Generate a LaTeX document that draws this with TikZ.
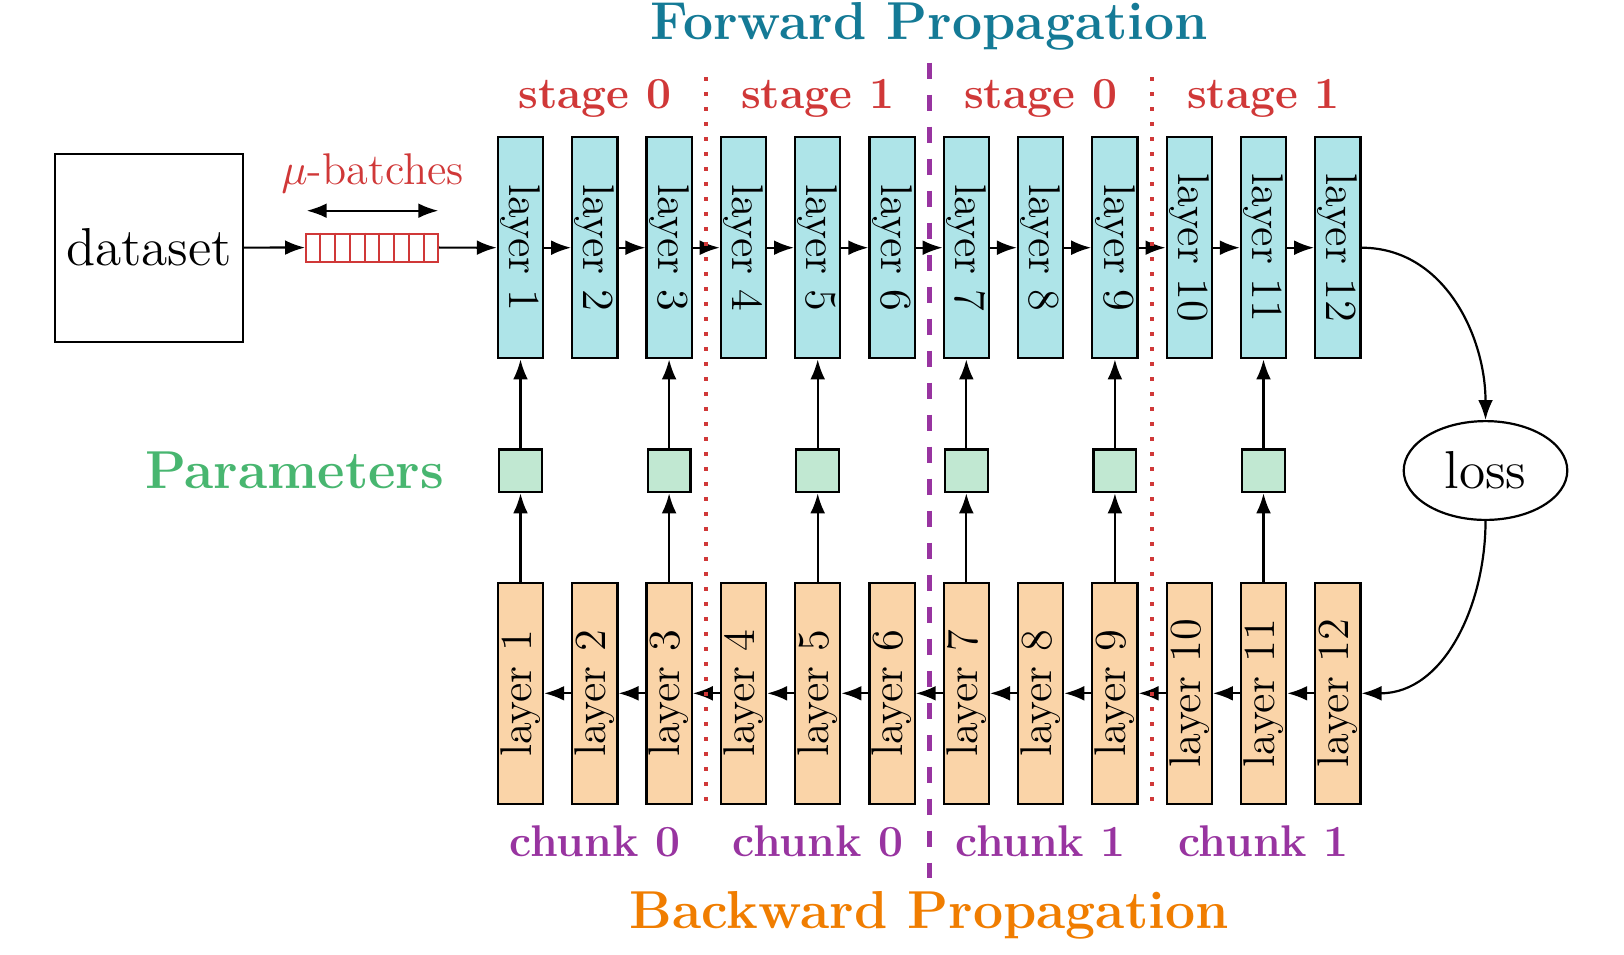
\documentclass[tikz,border=0pt]{standalone}
\usepackage{graphicx}
\usetikzlibrary{arrows.meta,calc,shapes.geometric}

\definecolor{fwdblue}{RGB}{20,122,150}
\definecolor{stagered}{RGB}{208,56,56}
\definecolor{paramgreen}{RGB}{72,182,112}
\definecolor{paramfill}{RGB}{193,232,210}
\definecolor{fwdfill}{RGB}{174,228,232}
\definecolor{bwdfill}{RGB}{250,212,168}
\definecolor{chunkpurple}{RGB}{152,52,160}
\definecolor{bwdorange}{RGB}{240,125,0}

\newcommand{\lblsize}{\fontsize{11.1}{13.4}\selectfont}
\newcommand{\headsize}{\fontsize{13.35}{16}\selectfont}

\tikzset{
  x=0.25pt, y=0.25pt,
  conn/.style={line width=0.55pt, -{Latex[length=5pt,width=3.7pt]}},
  layerbox/.style={draw, line width=0.55pt, minimum width=11.3pt,
    minimum height=55.3pt, inner sep=0pt, font=\lblsize},
  fwdlayer/.style={layerbox, fill=fwdfill},
  bwdlayer/.style={layerbox, fill=bwdfill},
  parambox/.style={draw, line width=0.55pt, fill=paramfill,
    minimum size=10.7pt, inner sep=0pt},
  stagelbl/.style={anchor=base, inner sep=0pt, text=stagered, font=\lblsize\bfseries},
  chunklbl/.style={anchor=base, inner sep=0pt, text=chunkpurple, font=\lblsize\bfseries},
  titlelbl/.style={anchor=base, inner sep=0pt, font=\headsize\bfseries},
  stagesep/.style={stagered, line width=1pt, dash pattern=on 1pt off 2.75pt},
  chunksep/.style={chunkpurple, line width=1.25pt, dash pattern=on 4pt off 4pt},
}

\begin{document}
\begin{tikzpicture}
\useasboundingbox (0,0) rectangle (1624,-954);

% input side: dataset and micro-batch queue
\node[draw, line width=0.55pt, minimum size=47pt, inner sep=0pt,
  font=\headsize] (data) at (149,-247.7) {dataset};
\node[draw=stagered, line width=0.5pt, minimum width=33pt,
  minimum height=7pt, inner sep=0pt] (queue) at (372,-247.5) {};
\foreach \k in {1,...,8}
  \draw[stagered, line width=0.5pt]
    ($(queue.north west)!\k/9!(queue.north east)$) --
    ($(queue.south west)!\k/9!(queue.south east)$);
\node[anchor=base, inner sep=0pt, text=stagered, font=\lblsize] (mulabel)
  at (372.6,-184) {$\mu$-batches};
\coordinate (qa) at (306.7,-210.7);
\coordinate (qb) at (438.3,-210.7);
\draw[line width=0.55pt, {Latex[length=5pt,width=3.7pt]}-{Latex[length=5pt,width=3.7pt]}] (qa) -- (qb);

% forward and backward layers
\foreach \i in {1,...,12} {
  \node[fwdlayer] (f\i) at ({520.5+(\i-1)*74.3},-247.7) {\rotatebox{-90}{layer \i}};
  \node[bwdlayer] (b\i) at ({520.5+(\i-1)*74.3},-693.3) {\rotatebox{90}{layer \i}};
}

\draw[conn] (data) -- (queue);
\draw[conn] (queue) -- (f1);
\foreach \i in {1,...,11} {
  \pgfmathtruncatemacro{\j}{\i+1}
  \draw[conn] (f\i) -- (f\j);
  \draw[conn] (b\j) -- (b\i);
}

% shared parameters of every other layer
\foreach \i in {1,3,5,7,9,11} {
  \node[parambox] (p\i) at ({520.5+(\i-1)*74.3},-470.8) {};
  \draw[conn] (b\i) -- (p\i);
  \draw[conn] (p\i) -- (f\i);
}
\node[anchor=base east, inner sep=0pt, text=paramgreen, font=\headsize\bfseries]
  (paramlbl) at (445,-488.5) {Parameters};

% loss between the two passes
\node[draw, ellipse, line width=0.55pt, minimum width=40.9pt,
  minimum height=24.7pt, inner sep=0pt, font=\headsize] (loss)
  at (1485.5,-470.5) {loss};
\draw[conn] (f12.east) to[out=0,in=90] (loss.north);
\draw[conn] (loss.south) to[out=-90,in=0] (b12.east);

% stage and chunk separators
\coordinate (s1t) at (706,-77);    \coordinate (s1b) at (706,-811);
\coordinate (s2t) at (1152,-77);   \coordinate (s2b) at (1152,-811);
\coordinate (ct) at (929.2,-62.7); \coordinate (cb) at (929.2,-878);
\draw[stagesep] (s1t) -- (s1b);
\draw[stagesep] (s2t) -- (s2b);
\draw[chunksep] (ct) -- (cb);

% labels
\node[stagelbl] (st1) at (594.8,-108.5) {stage 0};
\node[stagelbl] (st2) at (817.7,-108.5) {stage 1};
\node[stagelbl] (st3) at (1040.6,-108.5) {stage 0};
\node[stagelbl] (st4) at (1263.5,-108.5) {stage 1};
\node[chunklbl] (ch1) at (594.8,-856.5) {chunk 0};
\node[chunklbl] (ch2) at (817.7,-856.5) {chunk 0};
\node[chunklbl] (ch3) at (1040.6,-856.5) {chunk 1};
\node[chunklbl] (ch4) at (1263.5,-856.5) {chunk 1};
\node[titlelbl, text=fwdblue] (fwdtitle) at (929.2,-39) {Forward Propagation};
\node[titlelbl, text=bwdorange] (bwdtitle) at (929.2,-928.3) {Backward Propagation};
\end{tikzpicture}
\end{document}
